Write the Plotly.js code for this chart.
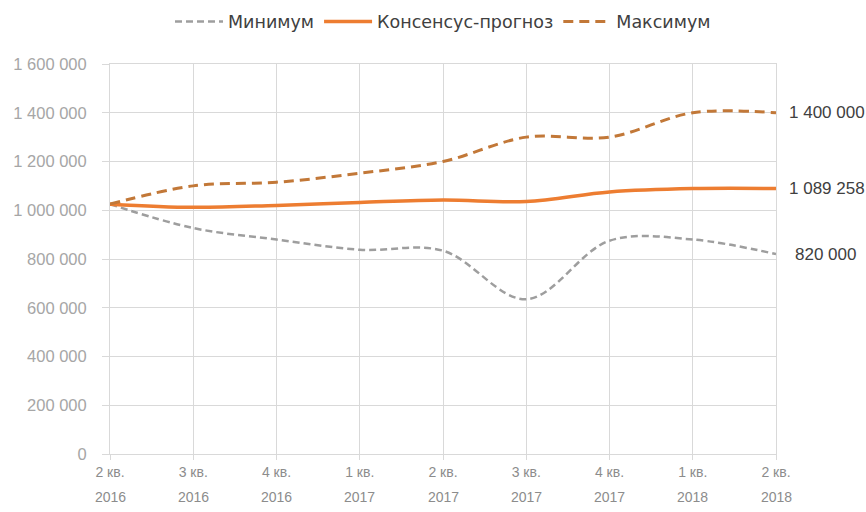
<!DOCTYPE html>
<html><head><meta charset="utf-8">
<script src="https://cdn.plot.ly/plotly-3.0.1.min.js"></script>
<style>html,body{margin:0;padding:0;background:#fff}#chart{width:866px;height:512px}</style>
</head><body><div id="chart"></div>
<script>
const quarters = ["2 кв.","3 кв.","4 кв.","1 кв.","2 кв.","3 кв.","4 кв.","1 кв.","2 кв."];
const years    = ["2016","2016","2016","2017","2017","2017","2017","2018","2018"];
const minimum   = [1025000, 927000, 880000, 838000, 834000, 635000, 875000, 880000, 820000];
const consensus = [1025000, 1012000, 1020000, 1032000, 1042000, 1036000, 1075000, 1089000, 1089258];
const maximum   = [1025000, 1100000, 1115000, 1152000, 1200000, 1300000, 1300000, 1400000, 1400000];
const endLabels = ["1 400 000", "1 089 258", "820 000"];
const endValues = [1400000, 1089258, 820000];

const categories = quarters.map((q, i) => q + " " + years[i]);
const font = "Liberation Sans, Arial, sans-serif";
const traces = [
  {x: categories, y: minimum, name: "Минимум", type: "scatter", mode: "lines",
   line: {color: "#9e9e9e", width: 2.5, dash: "7px,4px", shape: "spline", smoothing: 1}},
  {x: categories, y: consensus, name: "Консенсус-прогноз", type: "scatter", mode: "lines",
   line: {color: "#ED7D31", width: 3.5, shape: "spline", smoothing: 1}},
  {x: categories, y: maximum, name: "Максимум", type: "scatter", mode: "lines",
   line: {color: "#C27838", width: 3, dash: "10px,6px", shape: "spline", smoothing: 1}}
];
const annotations = endLabels.map((t, i) => ({
  x: categories[categories.length - 1], y: endValues[i], xref: "x", yref: "y", text: t,
  showarrow: false, xanchor: "left", xshift: i === 2 ? 17 : 11,
  font: {family: font, size: 17, color: "#404040"}
})).concat(years.map((yr, i) => ({
  x: categories[i], y: 0, xref: "x", yref: "paper", text: yr, showarrow: false,
  xanchor: "center", yanchor: "middle", yshift: -43,
  font: {family: font, size: 14, color: "#8c8c8c"}
})));
const layout = {
  width: 866, height: 512,
  margin: {l: 110, r: 90, t: 64, b: 58, autoexpand: false},
  paper_bgcolor: "#fff", plot_bgcolor: "#fff",
  separators: ", ",
  showlegend: true,
  legend: {orientation: "h", x: 0.5, xanchor: "center", y: 1.155, yanchor: "top",
           font: {family: "DejaVu Sans, " + font, size: 17.5, color: "#404040"}, itemwidth: 48, traceorder: "normal"},
  xaxis: {type: "category", range: [0, 8], showgrid: true, gridcolor: "#d9d9d9", gridwidth: 1,
          tickvals: categories, ticktext: quarters,
          showline: true, linecolor: "#d9d9d9", mirror: true, ticks: "outside", ticklen: 5, tickcolor: "#d9d9d9",
          tickfont: {family: font, size: 14, color: "#8c8c8c"}, zeroline: false},
  yaxis: {range: [0, 1600000], dtick: 200000, tickformat: ",.0f", showgrid: true, gridcolor: "#d9d9d9",
          showline: true, linecolor: "#d9d9d9", mirror: true, ticks: "outside", ticklen: 7, tickcolor: "#d9d9d9",
          tickfont: {family: font, size: 16.5, color: "#a6a6a6"}, zeroline: false, ticklabelstandoff: 12},
  annotations: annotations
};
Plotly.newPlot("chart", traces, layout, {displayModeBar: false, staticPlot: true});
</script></body></html>
